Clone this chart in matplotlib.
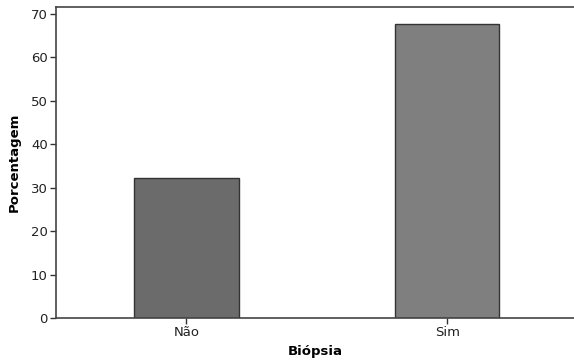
import matplotlib
matplotlib.use("Agg")
import matplotlib.pyplot as plt

categories = ["Não", "Sim"]
values = [32.3, 67.7]
colors = ["#6b6b6b", "#7f7f7f"]
yticks = [0, 10, 20, 30, 40, 50, 60, 70]

fig = plt.figure(figsize=(5.74, 3.62), dpi=100)
ax = fig.add_axes([56/574, 44/362, 1 - 56/574 + 0.002, (318-7)/362])
x = list(range(len(categories)))
ax.bar(x, values, width=0.4, color=colors, edgecolor="#333333", linewidth=1.0, zorder=2)
ax.set_xlim(-0.5, 1.49)
ax.set_ylim(0, 71.6)
ax.set_xticks(x)
ax.set_xticklabels(categories, fontsize=9.5, color="#222222")
ax.set_yticks(yticks)
ax.set_yticklabels([str(t) for t in yticks], fontsize=9.5, color="#222222")
ax.tick_params(axis="both", length=4, width=1, color="#333333", pad=2)
for s in ["left", "top", "bottom"]:
    ax.spines[s].set_color("#444444")
    ax.spines[s].set_linewidth(1.2)
ax.spines["right"].set_visible(False)
ax.set_xlabel("Biópsia", fontsize=9.5, fontweight="bold", labelpad=4)
ax.set_ylabel("Porcentagem", fontsize=9.5, fontweight="bold", labelpad=7)
fig.savefig("out.png", dpi=100)
